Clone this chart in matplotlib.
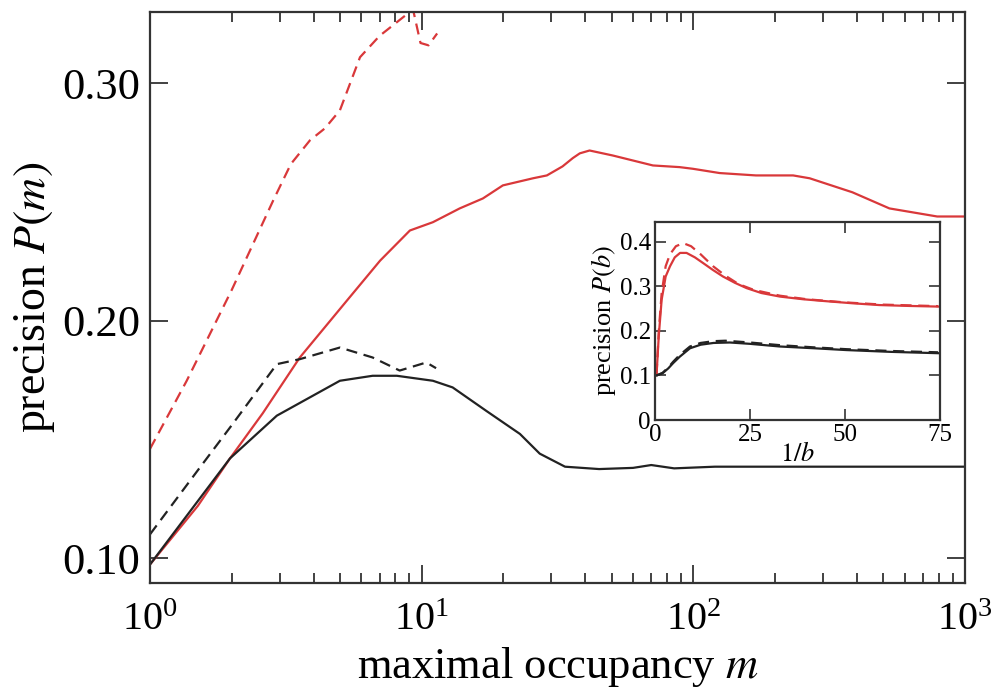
import numpy as np
import matplotlib
matplotlib.use('Agg')
import matplotlib.pyplot as plt
from matplotlib.ticker import LogLocator, FixedLocator, NullFormatter

plt.rcParams['font.family'] = ['Liberation Serif', 'DejaVu Serif']
plt.rcParams['mathtext.fontset'] = 'stix'

RED = '#d9383a'

# main panel: precision vs maximal occupancy m
m_red_solid = [1, 1.5, 1.97, 2.6, 3.56, 5.3, 7.03, 9.05, 11.0, 13.8, 16.8, 19.9, 25.7, 28.9,
               33.0, 36.0, 38.2, 41.5, 50.5, 71, 89, 99.6, 125, 170, 233, 268, 385, 527, 790, 1000]
p_red_solid = [0.0973, 0.122, 0.142, 0.161, 0.1845, 0.2084, 0.2253, 0.238, 0.2415, 0.2473, 0.2515,
               0.257, 0.260, 0.2612, 0.265, 0.2685, 0.2705, 0.2717, 0.2696, 0.2654, 0.2647, 0.264,
               0.2622, 0.2612, 0.2612, 0.260, 0.2541, 0.2473, 0.2439, 0.2439]

m_red_dash = [1, 1.365, 2.0, 2.84, 3.3, 3.88, 4.4, 5.0, 5.93, 7.0, 7.85, 8.8, 9.3, 9.9, 10.6, 11.4]
p_red_dash = [0.146, 0.1747, 0.213, 0.2506, 0.266, 0.276, 0.281, 0.2886, 0.311, 0.320, 0.3245,
              0.329, 0.331, 0.317, 0.316, 0.321]

m_blk_solid = [1, 1.97, 2.93, 5.0, 6.6, 8.1, 11.0, 13.0, 17.3, 23.0, 27.2, 33.7, 45, 60, 70,
               85, 120, 200, 400, 1000]
p_blk_solid = [0.0973, 0.142, 0.160, 0.1747, 0.1768, 0.1768, 0.1747, 0.1719, 0.162, 0.1523, 0.144,
               0.1385, 0.1375, 0.138, 0.1392, 0.1378, 0.1385, 0.1385, 0.1385, 0.1385]

m_blk_dash = [1, 1.5, 2.0, 2.93, 3.56, 5.0, 6.6, 8.3, 10.4, 11.3]
p_blk_dash = [0.110, 0.137, 0.156, 0.1817, 0.1838, 0.1887, 0.1845, 0.179, 0.1824, 0.180]

# inset: precision vs 1/b
b_red_solid = [0.4, 1.0, 1.75, 2.8, 3.95, 5.2, 6.6, 8.3, 10.5, 12.7, 15.2, 17.9, 21.0, 24.1, 28.0,
               32.9, 39, 46, 52, 59, 67, 74.5]
p_red_solid_b = [0.101, 0.19, 0.27, 0.322, 0.345, 0.365, 0.375, 0.375, 0.365, 0.352, 0.337, 0.322,
                 0.308, 0.296, 0.285, 0.277, 0.271, 0.266, 0.262, 0.258, 0.256, 0.2546]

b_red_dash = [0.4, 1.0, 1.75, 2.8, 3.95, 5.5, 7.4, 9.5, 12.0, 15.3, 18.5, 22.0, 26.0, 32.9, 40,
              50, 60, 74.5]
p_red_dash_b = [0.101, 0.20, 0.285, 0.345, 0.372, 0.39, 0.397, 0.39, 0.372, 0.345, 0.324, 0.305,
                0.292, 0.279, 0.271, 0.264, 0.259, 0.2556]

b_blk_solid = [0.4, 2.0, 3.5, 4.8, 6.5, 9.2, 12.0, 15.4, 19.7, 25.0, 32.9, 42, 50.4, 62, 74.5]
p_blk_solid_b = [0.100, 0.105, 0.116, 0.128, 0.142, 0.161, 0.169, 0.173, 0.174, 0.171, 0.165,
                 0.161, 0.157, 0.153, 0.150]

b_blk_dash = [0.4, 2.0, 3.5, 4.8, 6.5, 9.2, 12.0, 15.4, 18.5, 25.0, 32.9, 42, 50.4, 62, 74.5]
p_blk_dash_b = [0.100, 0.106, 0.118, 0.131, 0.146, 0.165, 0.173, 0.177, 0.178, 0.174, 0.168,
                0.163, 0.159, 0.155, 0.152]

fig = plt.figure(figsize=(10, 6.92), dpi=100)
ax = fig.add_axes([0.150, 0.1575, 0.815, 0.825])

dash = (0, (5, 3))
ax.plot(m_red_dash, p_red_dash, color=RED, lw=1.6, ls=dash)
ax.plot(m_red_solid, p_red_solid, color=RED, lw=1.6)
ax.plot(m_blk_dash, p_blk_dash, color='#222222', lw=1.6, ls=dash)
ax.plot(m_blk_solid, p_blk_solid, color='#222222', lw=1.6)

ax.set_xscale('log')
ax.set_xlim(1, 1000)
ax.set_ylim(0.0895, 0.330)
ax.xaxis.set_major_locator(LogLocator(base=10, numticks=10))
ax.xaxis.set_minor_locator(LogLocator(base=10, subs=np.arange(2, 10), numticks=20))
ax.xaxis.set_minor_formatter(NullFormatter())
ax.yaxis.set_major_locator(FixedLocator([0.10, 0.20, 0.30]))
ax.set_yticklabels(['0.10', '0.20', '0.30'])
ax.tick_params(which='both', direction='in', top=True, right=True, width=1.3, color='#333333')
ax.tick_params(which='major', length=13)
ax.tick_params(which='minor', length=7)
ax.tick_params(axis='x', which='major', labelsize=29, pad=14)
ax.tick_params(axis='y', which='major', labelsize=32, pad=7)
ax.set_xlabel('maximal occupancy $m$', fontsize=32, labelpad=4)
ax.set_ylabel('precision $P(m)$', fontsize=33, labelpad=4)
for s in ax.spines.values():
    s.set_linewidth(1.6)
    s.set_color('#333333')

# inset
axin = fig.add_axes([0.655, 0.393, 0.285, 0.2866])
axin.plot(b_red_dash, p_red_dash_b, color=RED, lw=1.6, ls=dash)
axin.plot(b_red_solid, p_red_solid_b, color=RED, lw=1.6)
axin.plot(b_blk_dash, p_blk_dash_b, color='#222222', lw=1.6, ls=dash)
axin.plot(b_blk_solid, p_blk_solid_b, color='#222222', lw=1.6)
axin.set_xlim(0, 75)
axin.set_ylim(0, 0.445)
axin.set_xticks([0, 25, 50, 75])
axin.set_yticks([0, 0.1, 0.2, 0.3, 0.4])
axin.set_yticklabels(['0', '0.1', '0.2', '0.3', '0.4'])
axin.tick_params(direction='in', top=True, right=True, length=8, width=1.2,
                 labelsize=18, pad=3, color='#333333')
axin.set_xlabel('$1/b$', fontsize=19, labelpad=-3)
axin.set_ylabel('precision $P(b)$', fontsize=19, labelpad=1)
for s in axin.spines.values():
    s.set_linewidth(1.6)
    s.set_color('#333333')

fig.savefig('out.png', dpi=100)
